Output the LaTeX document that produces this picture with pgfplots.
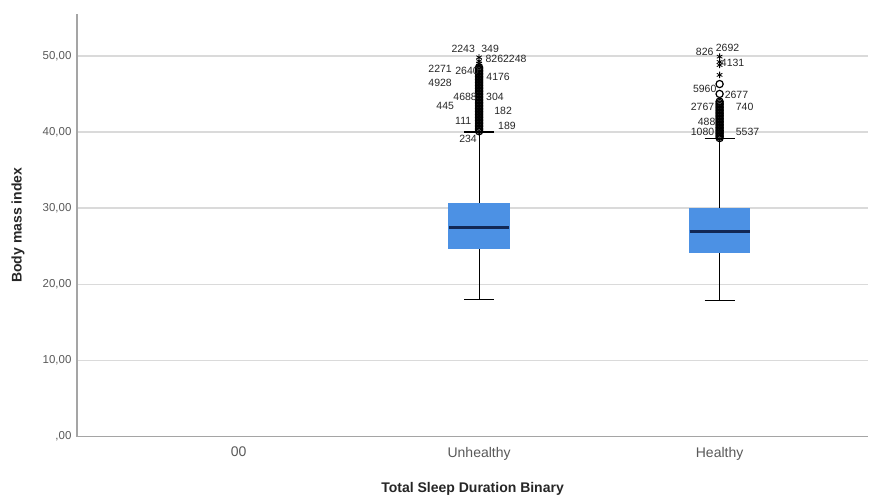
\documentclass[border=0pt]{standalone}
\usepackage{fontspec}
\setmainfont{Liberation Sans}
\usepackage{pgfplots}
\usepackage{pgfplotstable}
\pgfplotsset{compat=1.18}
\usepgfplotslibrary{statistics}
\definecolor{boxblue}{RGB}{76,145,228}
\definecolor{mednavy}{RGB}{18,40,85}
\definecolor{gridgray}{RGB}{218,218,218}
\definecolor{axisgray}{RGB}{165,165,165}

\pgfplotstableread{
x y
1 40.1
1 40.3
1 40.5
1 40.7
1 40.9
1 41.1
1 41.3
1 41.5
1 41.7
1 41.9
1 42.1
1 42.3
1 42.5
1 42.7
1 42.9
1 43.1
1 43.3
1 43.5
1 43.7
1 43.9
1 44.1
1 44.3
1 44.5
1 44.7
1 44.9
1 45.1
1 45.3
1 45.5
1 45.7
1 45.9
1 46.1
1 46.3
1 46.5
1 46.7
1 46.9
1 47.1
1 47.3
1 47.5
1 47.7
1 47.9
1 48.1
1 48.3
1 48.5
2 39.2
2 39.4
2 39.6
2 39.8
2 40.0
2 40.2
2 40.4
2 40.6
2 40.8
2 41.0
2 41.2
2 41.4
2 41.6
2 41.8
2 42.0
2 42.2
2 42.4
2 42.6
2 42.8
2 43.0
2 43.2
2 43.4
2 43.6
2 43.8
2 44.0
2 45.0
2 46.3
}\outliers

\pgfplotstableread{
x y
1 48.7
1 49.0
1 49.3
1 49.8
2 47.5
2 48.8
2 49.2
2 49.9
}\extremes

\pgfplotstableread{
x y lab
0.934 50.96 2243
1.046 50.96 349
1.112 49.65 8262248
0.838 48.26 2271
0.950 48.04 2640
1.079 47.29 4176
0.838 46.50 4928
0.942 44.63 4688
1.066 44.63 304
0.859 43.46 445
1.100 42.71 182
0.934 41.49 111
1.116 40.84 189
0.954 39.10 234
1.938 50.56 826
2.033 51.09 2692
2.054 49.04 4131
1.938 45.72 5960
2.070 44.90 2677
1.929 43.32 2767
2.104 43.32 740
1.946 41.27 488
1.929 39.96 1080
2.116 39.96 5537
}\labels

\begin{document}
\begin{tikzpicture}
\begin{axis}[
  at={(0pt,0pt)}, anchor=south west,
  scale only axis, width=792pt, height=423pt,
  xmin=-0.672, xmax=2.618, ymin=0, ymax=55.5,
  axis x line*=bottom, axis y line*=left,
  axis line style={draw=axisgray, line width=1.4pt},
  xtick={0,1,2}, xticklabels={00,Unhealthy,Healthy},
  ytick={0,10,20,30,40,50},
  yticklabels={{,00},{10,00},{20,00},{30,00},{40,00},{50,00}},
  major tick length=0pt,
  ymajorgrids, grid style={draw=gridgray, line width=1.5pt},
  xticklabel style={font=\fontsize{14}{16}\selectfont, text=black!65, yshift=-7pt},
  yticklabel style={font=\fontsize{11.5}{13}\selectfont, text=black!65, xshift=-2pt},
  xlabel={Total Sleep Duration Binary},
  ylabel={Body mass index},
  label style={font=\bfseries\fontsize{14}{16}\selectfont, text=black!85},
  xlabel style={at={(axis description cs:0.5,-0.1230)}, anchor=center},
  ylabel style={at={(axis description cs:-0.0745,0.5)}, anchor=center},
  boxplot/draw direction=y,
  boxplot/every box/.style={fill=boxblue, draw=boxblue},
  boxplot/every median/.style={draw=mednavy, line width=3.2pt},
  boxplot/every whisker/.style={draw=black, line width=1.1pt},
  clip=false,
]
\addplot[boxplot prepared={draw position=1, median=27.5, upper quartile=30.65,
  lower quartile=24.7, upper whisker=40.0, lower whisker=18.0,
  box extend=0.25, whisker extend=0.125}, draw=black, line width=1.1pt] coordinates {};
\addplot[boxplot prepared={draw position=2, median=26.9, upper quartile=29.9,
  lower quartile=24.2, upper whisker=39.1, lower whisker=17.9,
  box extend=0.25, whisker extend=0.125}, draw=black, line width=1.1pt] coordinates {};
\addplot[only marks, mark=o, mark size=3.6pt, mark options={draw=black, line width=1.2pt}] table {\outliers};
\addplot[only marks, mark=asterisk, mark size=3.2pt, mark options={draw=black, line width=0.8pt}] table {\extremes};
\addplot[draw=none, mark=none, nodes near coords, point meta=explicit symbolic,
  every node near coord/.append style={anchor=center, inner sep=0pt,
    font=\fontsize{10.5}{12}\selectfont, text=black!85}]
  table[meta=lab] {\labels};
\end{axis}
\path[use as bounding box] (-77pt,-61pt) rectangle (792pt,437pt);
\end{tikzpicture}
\end{document}
